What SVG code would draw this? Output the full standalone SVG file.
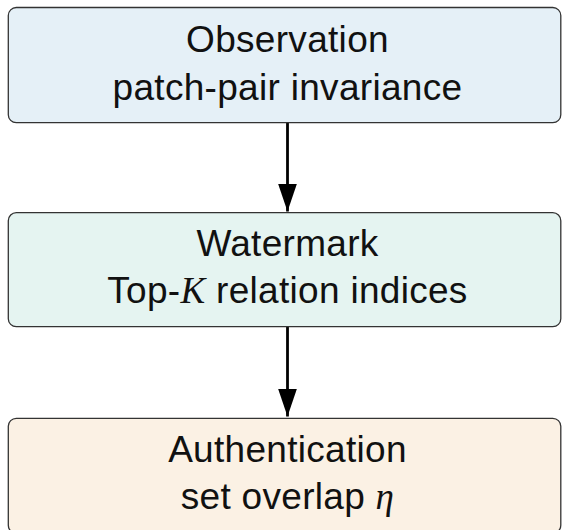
<svg xmlns="http://www.w3.org/2000/svg" width="562" height="530" viewBox="0 0 562 530">
  <style>
    .box { stroke: #333333; stroke-width: 1.3; }
    .lbl { font-family: "Liberation Sans", Arial, sans-serif; font-size: 37px; fill: #111111; text-anchor: middle; letter-spacing: 0.3px; }
    .math { font-family: "Liberation Serif", "Times New Roman", serif; font-style: italic; }
    .edge { stroke: #000000; stroke-width: 2.8; fill: none; }
  </style>
  <defs>
    <marker id="arrowhead" markerUnits="userSpaceOnUse" markerWidth="28" markerHeight="19" refX="28" refY="9.5" orient="auto" viewBox="0 0 28 19">
      <path d="M0,0 L28,9.5 L0,19 Z" fill="#000000"/>
    </marker>
  </defs>

  <rect width="562" height="530" fill="#ffffff"/>

  <g id="connectors">
    <line class="edge" x1="287.5" y1="123" x2="287.5" y2="211.5" marker-end="url(#arrowhead)"/>
    <line class="edge" x1="287.5" y1="327" x2="287.5" y2="416.5" marker-end="url(#arrowhead)"/>
  </g>

  <g id="observation">
    <rect class="box" x="8.3" y="7.5" width="552.5" height="115.2" rx="8" fill="#e5f0f7"/>
    <text class="lbl" x="287.5" y="52">Observation</text>
    <text class="lbl" x="287.5" y="99.5">patch-pair invariance</text>
  </g>

  <g id="watermark">
    <rect class="box" x="8.3" y="212.7" width="552.5" height="114" rx="8" fill="#e5f4f1"/>
    <text class="lbl" x="287.5" y="255.5">Watermark</text>
    <text class="lbl" x="287.5" y="302.5">Top-<tspan class="math">K</tspan> relation indices</text>
  </g>

  <g id="authentication">
    <rect class="box" x="8.3" y="418.3" width="552.5" height="115" rx="8" fill="#fbf1e4"/>
    <text class="lbl" x="287.5" y="461.5">Authentication</text>
    <text class="lbl" x="287.5" y="509">set overlap <tspan class="math">η</tspan></text>
  </g>
</svg>
